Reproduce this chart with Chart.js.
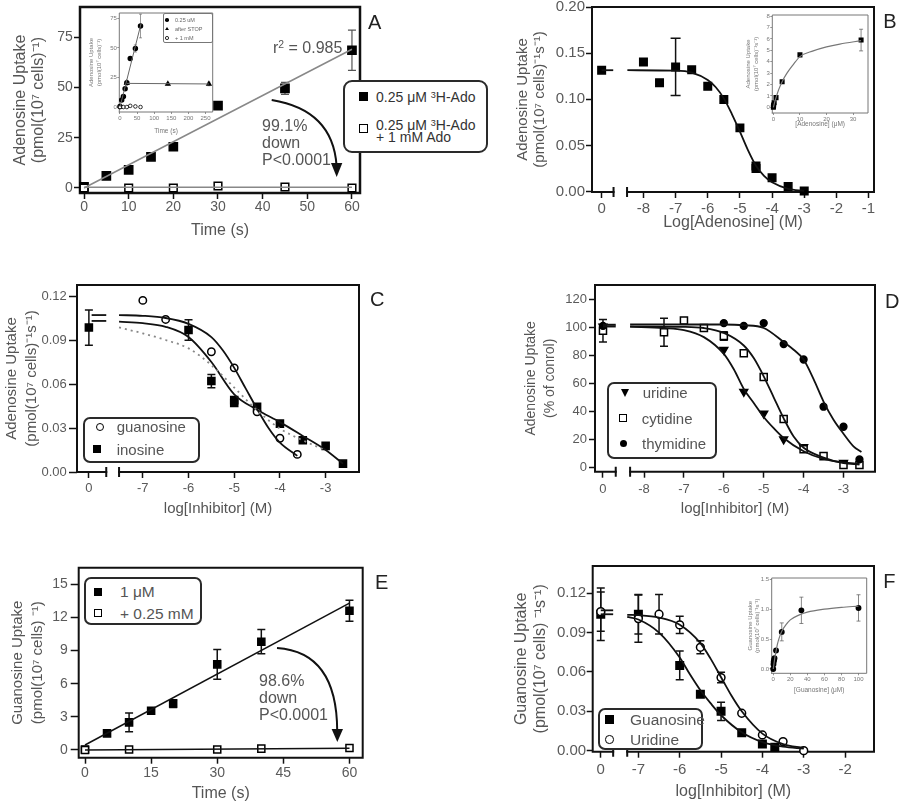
<!DOCTYPE html>
<html>
<head>
<meta charset="utf-8">
<title>Nucleoside uptake</title>
<script src="https://cdn.jsdelivr.net/npm/chart.js@4.4.1/dist/chart.umd.min.js"></script>
<style>
  html, body { margin: 0; padding: 0; background: #fff; }
  #page { position: relative; width: 900px; height: 803px; overflow: hidden; font-family: 'Liberation Sans', Arial, sans-serif; }
  #page canvas { position: absolute; }
  .box { position: absolute; box-sizing: border-box; background: #fff; border: 2px solid #2a2a2a; border-radius: 7px; z-index: 5; }
  .mk { position: absolute; box-sizing: border-box; z-index: 6; }
  .sq { background: #000; }
  .ci { background: #000; border-radius: 50%; }
  .open { background: #fff; border: 1.5px solid #000; }
  .tri { width: 0; height: 0; border-left: 4.5px solid transparent; border-right: 4.5px solid transparent; border-top: 8px solid #000; }
  .txt { position: absolute; white-space: nowrap; color: #555; z-index: 6; }
  .txt sup { font-size: 0.65em; position: relative; top: -0.45em; vertical-align: baseline; line-height: 0; }
  .letter { position: absolute; font-size: 20px; line-height: 20px; color: #222; z-index: 6; }
  svg { position: absolute; left: 0; top: 0; z-index: 6; }
</style>
</head>
<body>
<div id="page">
  <canvas id="chartA" width="420" height="262" style="left:0;top:0"></canvas>
  <canvas id="chartB" width="400" height="262" style="left:500px;top:0"></canvas>
  <canvas id="chartC" width="420" height="262" style="left:0;top:270px"></canvas>
  <canvas id="chartD" width="400" height="262" style="left:500px;top:270px"></canvas>
  <canvas id="chartE" width="420" height="263" style="left:0;top:540px"></canvas>
  <canvas id="chartF" width="400" height="263" style="left:500px;top:540px"></canvas>
  <canvas id="insetA" width="135" height="135" style="left:85px;top:5px"></canvas>
  <canvas id="insetB" width="135" height="130" style="left:740px;top:8px"></canvas>
  <canvas id="insetF" width="135" height="130" style="left:740px;top:570px"></canvas>

  <!-- panel A legend + notes -->
  <div class="box" style="left:343px;top:80px;width:145px;height:73px;border-radius:9px"></div>
  <div class="mk sq" style="left:359px;top:91.5px;width:9px;height:9px"></div>
  <div class="txt" style="left:376px;top:88.7px;font-size:14px;line-height:16px;color:#333">0.25 μM <sup>3</sup>H-Ado</div>
  <div class="mk sq open" style="left:359px;top:123.8px;width:9px;height:9px"></div>
  <div class="txt" style="left:376px;top:118.8px;font-size:14px;line-height:12.5px;color:#333">0.25 μM <sup>3</sup>H-Ado<br>+ 1 mM Ado</div>
  <div class="txt" style="left:273px;top:39px;font-size:16px;line-height:18px">r<sup>2</sup> = 0.985</div>
  <div class="txt" style="left:262px;top:116.5px;font-size:16px;line-height:17px">99.1%<br>down<br>P&lt;0.0001</div>

  <!-- inset A legend -->
  <div class="box" style="left:163px;top:13px;width:50px;height:30px;border:1px solid #777;border-radius:2px;background:transparent"></div>
  <div class="mk ci" style="left:165px;top:18.2px;width:3.5px;height:3.5px"></div>
  <div class="txt" style="left:175px;top:17px;font-size:5.5px;line-height:6px;color:#666">0.25 uM</div>
  <div class="mk" style="left:164.7px;top:27.2px;width:0;height:0;border-left:2px solid transparent;border-right:2px solid transparent;border-bottom:3.5px solid #000"></div>
  <div class="txt" style="left:175px;top:26px;font-size:5.5px;line-height:6px;color:#666">after STOP</div>
  <div class="mk ci open" style="left:165px;top:36.2px;width:3.5px;height:3.5px;border-width:0.8px"></div>
  <div class="txt" style="left:175px;top:35px;font-size:5.5px;line-height:6px;color:#666">+ 1 mM</div>

  <!-- panel C legend -->
  <div class="box" style="left:83px;top:417px;width:117px;height:46px"></div>
  <div class="mk ci open" style="left:96px;top:422.7px;width:8px;height:8px"></div>
  <div class="txt" style="left:116.7px;top:418.2px;font-size:15px;line-height:17px">guanosine</div>
  <div class="mk sq" style="left:92.7px;top:445.3px;width:8px;height:8px"></div>
  <div class="txt" style="left:116.7px;top:440.8px;font-size:15px;line-height:17px">inosine</div>

  <!-- panel D legend -->
  <div class="box" style="left:607px;top:382px;width:110px;height:77px"></div>
  <div class="mk tri" style="left:620.5px;top:388.7px"></div>
  <div class="txt" style="left:642.7px;top:384.2px;font-size:15px;line-height:17px">uridine</div>
  <div class="mk sq open" style="left:619.3px;top:414.3px;width:8px;height:8px"></div>
  <div class="txt" style="left:641.7px;top:409.8px;font-size:15px;line-height:17px">cytidine</div>
  <div class="mk ci" style="left:619.8px;top:439.8px;width:7px;height:7px"></div>
  <div class="txt" style="left:642px;top:434.8px;font-size:15px;line-height:17px">thymidine</div>

  <!-- panel E legend + notes -->
  <div class="box" style="left:84px;top:577px;width:118px;height:48px"></div>
  <div class="mk sq" style="left:94.3px;top:587.7px;width:8px;height:8px"></div>
  <div class="txt" style="left:120px;top:583.2px;font-size:15.5px;line-height:17px">1 μM</div>
  <div class="mk sq open" style="left:94.3px;top:609.3px;width:8px;height:8px"></div>
  <div class="txt" style="left:120px;top:604.8px;font-size:15.5px;line-height:17px">+ 0.25 mM</div>
  <div class="txt" style="left:259px;top:673.3px;font-size:16px;line-height:16.7px">98.6%<br>down<br>P&lt;0.0001</div>

  <!-- panel F legend -->
  <div class="box" style="left:598px;top:708px;width:105px;height:42px"></div>
  <div class="mk sq" style="left:605px;top:715px;width:8.5px;height:8.5px"></div>
  <div class="txt" style="left:630px;top:710.8px;font-size:15.5px;line-height:17px">Guanosine</div>
  <div class="mk ci open" style="left:605px;top:735px;width:8.5px;height:8.5px"></div>
  <div class="txt" style="left:630px;top:730.8px;font-size:15.5px;line-height:17px">Uridine</div>

  <div class="letter" style="left:368px;top:12.4px">A</div>
  <div class="letter" style="left:883.3px;top:10.7px">B</div>
  <div class="letter" style="left:370px;top:289px">C</div>
  <div class="letter" style="left:885px;top:290.7px">D</div>
  <div class="letter" style="left:375px;top:572.4px">E</div>
  <div class="letter" style="left:883.3px;top:570.7px">F</div>

  <svg width="900" height="803">
    <path d="M271.7,100 Q333,110 336.6,166" fill="none" stroke="#111" stroke-width="2"/>
    <polygon points="331,163 342.3,163 336.7,177" fill="#111"/>
    <path d="M277,648 Q337,652 337.2,731" fill="none" stroke="#111" stroke-width="2"/>
    <polygon points="331.6,729 343,729 337.3,742" fill="#111"/>
  </svg>
</div>

<script>
// ---- A: adenosine uptake over time ----
const aTime = [0, 5, 10, 15, 20, 30, 45, 60];
const aUptake = [0.5, 6, 9, 15.5, 20.5, 41, 49.5, 68.5];
const aUptakeErr = [0, 0, 0, 0, 0, 0, 3, 10];
const aBlockTime = [0, 10, 20, 30, 45, 60];
const aBlocked = [0, 0, 0, 1, 0.5, 0];
const aFitTime = [0, 60];
const aFitUptake = [0, 69];
const aBlockFit = [0.3, 0.3];
const aTimeTicks = [0, 10, 20, 30, 40, 50, 60];
const aUptakeTicks = [0, 25, 50, 75];
// inset A
const aStopTime = [20, 140, 260];
const aStopUptake = [20.5, 19.5, 19.5];
const aStopErr = [1, 1, 1.5];
const aInFitTime = [0, 62];
const aInFitUptake = [0, 71];
const aStopFitTime = [20, 260];
const aStopFitUptake = [20, 19.5];
const aInTimeTicks = [0, 50, 100, 150, 200, 250];

// ---- B: adenosine concentration response ----
const bZero = -9.3;
const bLogConc = [bZero, -8, -7.5, -7, -6.5, -6, -5.5, -5, -4.5, -4.5, -4, -3.5, -3];
const bUptake = [0.1315, 0.1405, 0.118, 0.135, 0.132, 0.114, 0.0998, 0.069, 0.0277, 0.025, 0.015, 0.0054, 0.0007];
const bUptakeErr = [0, 0, 0, 0.031, 0, 0, 0, 0, 0, 0, 0, 0, 0];
const bFitLog = [-8.5, -7, -6.5, -6, -5.75, -5.5, -5.25, -5, -4.75, -4.5, -4.25, -4, -3.5, -3];
const bFitUptake = [0.1315, 0.131, 0.129, 0.121, 0.113, 0.101, 0.084, 0.065, 0.045, 0.028, 0.017, 0.010, 0.003, 0.0008];
const bZeroDashLog = [bZero, -8.94];
const bZeroDashUptake = [0.1315, 0.1315];
const bLogTicks = [bZero, -8, -7, -6, -5, -4, -3, -2, -1];
const bLogLabels = ['0', '-8', '-7', '-6', '-5', '-4', '-3', '-2', '-1'];
const bUptakeTicks = [0, 0.05, 0.1, 0.15, 0.2];
const bUptakeLabels = ['0.00', '0.05', '0.10', '0.15', '0.20'];
// inset B
const bInConc = [0, 0.05, 0.1, 0.3, 1, 3.3, 10, 33];
const bInUptake = [0, 0.1, 0.2, 0.4, 0.85, 2.25, 4.6, 5.9];
const bInErr = [0, 0, 0, 0, 0, 0, 0, 0.95];
const bInFitConc = [0, 0.5, 1, 2, 3.3, 5, 7.5, 10, 15, 20, 25, 33];
const bInFitUptake = [0, 0.45, 0.85, 1.55, 2.25, 2.95, 3.75, 4.45, 4.95, 5.3, 5.55, 5.85];
const bInConcTicks = [0, 10, 20, 30];
const bInUptakeTicks = [0, 1, 2, 3, 4, 5, 6, 7, 8];

// ---- C: purine inhibitors ----
const cZero = -8.18;
const cGuanLog = [-7, -6.5, -5.5, -5, -4.5, -4, -3.62];
const cGuan = [0.117, 0.104, 0.082, 0.071, 0.041, 0.023, 0.012];
const cInoLog = [cZero, -6, -5.5, -5, -5, -4.5, -4, -3.5, -3, -2.62];
const cIno = [0.0985, 0.0968, 0.062, 0.047, 0.049, 0.0444, 0.033, 0.0216, 0.0178, 0.0057];
const cInoErr = [0.012, 0.007, 0.0045, 0, 0, 0, 0, 0, 0, 0];
const cGuanFitLog = [-7.52, -7, -6.5, -6, -5.5, -5.25, -5, -4.75, -4.5, -4.25, -4, -3.62];
const cGuanFit = [0.107, 0.1065, 0.105, 0.101, 0.092, 0.083, 0.071, 0.057, 0.043, 0.030, 0.020, 0.011];
const cInoFitLog = [-7.52, -7, -6.5, -6, -5.5, -5, -4.5, -4, -3.5, -3, -2.62];
const cInoFit = [0.1025, 0.1015, 0.099, 0.092, 0.075, 0.053, 0.0425, 0.034, 0.0246, 0.015, 0.0057];
const cDotLog = [-7.52, -7, -6.5, -6, -5.5, -5, -4.5, -4, -3.5, -3];
const cDotFit = [0.0986, 0.0945, 0.090, 0.0843, 0.0729, 0.0576, 0.042, 0.0296, 0.0216, 0.0148];
const cZeroDashLog = [-8.12, -7.80];
const cZeroDashHigh = [0.107, 0.107];
const cZeroDashLow = [0.103, 0.103];
const cLogTicks = [cZero, -7, -6, -5, -4, -3];
const cLogLabels = ['0', '-7', '-6', '-5', '-4', '-3'];
const cUptakeTicks = [0, 0.03, 0.06, 0.09, 0.12];
const cUptakeLabels = ['0.00', '0.03', '0.06', '0.09', '0.12'];

// ---- D: pyrimidine inhibitors ----
const dZero = -9.03;
const dUriLog = [dZero, -6, -5.5, -5, -4.5, -4, -3];
const dUri = [100.5, 84, 54, 38.5, 20, 14.5, 3.3];
const dCytLog = [dZero, -7.5, -7, -6.5, -6, -5.5, -5, -4.5, -4, -3.5, -3, -2.6];
const dCyt = [97.5, 96.5, 104.8, 99.5, 93.8, 81.5, 64.5, 34.5, 12.9, 8, 1.7, 1.7];
const dCytErr = [8, 10, 0, 0, 3, 0, 0, 0, 0, 0, 0, 0];
const dThyLog = [dZero, -6, -5.5, -5, -4.5, -4, -3.5, -3, -2.6];
const dThy = [101, 103, 101, 103, 88, 77, 43.3, 29, 5.7];
const dUriFitLog = [-8.35, -7.5, -7, -6.5, -6, -5.75, -5.5, -5.25, -5, -4.75, -4.5, -4, -3.5, -3, -2.6];
const dUriFit = [100.5, 99.5, 98, 93, 81, 70, 56, 46, 36, 28, 21, 11.5, 6, 3.5, 2.5];
const dCytFitLog = [-8.35, -7, -6.5, -6, -5.5, -5.25, -5, -4.75, -4.5, -4.25, -4, -3.5, -3, -2.6];
const dCytFit = [100.5, 100.3, 99.5, 96, 87, 78, 65, 50, 35, 22, 14, 7, 3, 2];
const dThyFitLog = [-8.35, -6, -5.5, -5, -4.5, -4.25, -4, -3.75, -3.5, -3.25, -3, -2.75, -2.55];
const dThyFit = [102, 102, 101.5, 99.5, 89.5, 84, 77, 63, 47, 34, 24, 15, 11];
const dZeroDashLog = [dZero, -8.71];
const dZeroDashHigh = [101.8, 101.8];
const dZeroDashLow = [100.6, 100.6];
const dLogTicks = [dZero, -8, -7, -6, -5, -4, -3];
const dLogLabels = ['0', '-8', '-7', '-6', '-5', '-4', '-3'];
const dPctTicks = [0, 20, 40, 60, 80, 100, 120];

// ---- E: guanosine uptake over time ----
const eTime = [0, 5, 10, 15, 20, 30, 40, 60];
const eUptake = [0.05, 1.5, 2.5, 3.55, 4.2, 7.75, 9.8, 12.6];
const eUptakeErr = [0, 0, 0.85, 0, 0.35, 1.35, 1.1, 0.95];
const eBlockTime = [0, 10, 30, 40, 60];
const eBlocked = [0, 0.05, 0.05, 0.12, 0.18];
const eFitTime = [0, 60];
const eFitUptake = [0.45, 13.3];
const eBlockFit = [0, 0.15];
const eTimeTicks = [0, 15, 30, 45, 60];
const eUptakeTicks = [0, 3, 6, 9, 12, 15];

// ---- F: guanosine uptake inhibition ----
const fZero = -7.91;
const fGuanLog = [fZero, -7, -6, -5.5, -5, -4.5, -4, -3.7];
const fGuan = [0.104, 0.104, 0.065, 0.043, 0.030, 0.0137, 0.005, 0.0025];
const fGuanErr = [0.02, 0.015, 0.011, 0, 0.007, 0, 0, 0];
const fUriLog = [fZero, -7, -6.5, -6, -5.5, -5, -4.5, -4, -3.5, -3];
const fUri = [0.106, 0.1007, 0.104, 0.0959, 0.0788, 0.0557, 0.0285, 0.012, 0.0069, 0];
const fUriErr = [0.015, 0.018, 0.015, 0.0065, 0.005, 0.004, 0, 0, 0, 0];
const fGuanFitLog = [-7.27, -7, -6.5, -6, -5.75, -5.5, -5.25, -5, -4.5, -4, -3.5, -3];
const fGuanFit = [0.102, 0.100, 0.090, 0.071, 0.058, 0.046, 0.036, 0.027, 0.014, 0.0065, 0.003, 0.0015];
const fUriFitLog = [-7.27, -7, -6.5, -6, -5.5, -5.25, -5, -4.75, -4.5, -4, -3.5, -3];
const fUriFit = [0.1035, 0.1033, 0.1015, 0.096, 0.082, 0.070, 0.056, 0.042, 0.030, 0.013, 0.005, 0.002];
const fZeroDashLog = [fZero, -7.61];
const fZeroDashHigh = [0.107, 0.107];
const fZeroDashLow = [0.104, 0.104];
const fLogTicks = [fZero, -7, -6, -5, -4, -3, -2];
const fLogLabels = ['0', '-7', '-6', '-5', '-4', '-3', '-2'];
// inset F
const fInConc = [0, 0.3, 0.5, 1, 1.5, 3.3, 10, 33, 100];
const fInUptake = [0, 0.08, 0.12, 0.15, 0.18, 0.31, 0.62, 0.98, 1.02];
const fInErr = [0, 0, 0, 0, 0, 0, 0.15, 0.22, 0.22];
const fInFitConc = [0, 1, 2, 3.3, 5, 7.5, 10, 15, 20, 30, 40, 60, 80, 100];
const fInFit = [0, 0.1, 0.2, 0.3, 0.42, 0.54, 0.63, 0.74, 0.82, 0.9, 0.95, 1.0, 1.03, 1.05];
const fInConcTicks = [0, 20, 40, 60, 80, 100];
const fInUptakeTicks = [0, 0.5, 1, 1.5];
const fInUptakeLabels = ['0.0', '0.5', '1.0', '1.5'];

const uptakeUnits = '(pmol(10⁷ cells)⁻¹s⁻¹)';

Chart.defaults.font.family = "'Liberation Sans', Arial, sans-serif";

const xy = (xs, ys) => xs.map((x, i) => ({x, y: ys[i]}));
const asText = (vals) => vals.map(v => String(v));

const line = (xs, ys, color, width, dash) => ({
  data: xy(xs, ys), showLine: true, pointRadius: 0, borderColor: color, borderWidth: width,
  borderDash: dash || [], cubicInterpolationMode: 'monotone', clip: false
});

const marks = (xs, ys, o) => ({
  data: xy(xs, ys), showLine: false, pointStyle: o.style, pointRadius: o.r, pointRotation: o.rot || 0,
  backgroundColor: o.open ? '#fff' : '#000', borderColor: '#000', borderWidth: o.bw || 1.5,
  errorBars: o.err, errorCap: o.cap, errorWidth: o.ew, errorColor: o.ec, clip: false
});

// draws the axes box, with the gap that splits off the "0" point
const framePlugin = {
  id: 'frame',
  beforeDatasetsDraw(chart, args, opts) {
    const {ctx, chartArea: {left, right, top, bottom}, scales: {x}} = chart;
    ctx.save();
    ctx.strokeStyle = opts.color;
    ctx.lineWidth = opts.width;
    ctx.lineCap = 'square';
    ctx.beginPath();
    ctx.moveTo(left, bottom);
    ctx.lineTo(left, top);
    ctx.lineTo(right, top);
    ctx.lineTo(right, bottom);
    if (opts.gapFrom !== undefined) {
      const g1 = x.getPixelForValue(opts.gapFrom);
      const g2 = x.getPixelForValue(opts.gapTo);
      ctx.lineTo(g2, bottom);
      ctx.moveTo(g1, bottom);
      ctx.lineTo(left, bottom);
      ctx.stroke();
      ctx.lineCap = 'butt';
      ctx.beginPath();
      ctx.moveTo(g1, bottom - 5); ctx.lineTo(g1, bottom + 5);
      ctx.moveTo(g2, bottom - 5); ctx.lineTo(g2, bottom + 5);
    } else {
      ctx.lineTo(left, bottom);
    }
    ctx.stroke();
    ctx.restore();
  }
};

const errorBarPlugin = {
  id: 'errorBars',
  beforeDatasetsDraw(chart) {
    const {ctx, scales: {x, y}} = chart;
    chart.data.datasets.forEach(ds => {
      if (!ds.errorBars) return;
      ctx.save();
      ctx.strokeStyle = ds.errorColor || '#111';
      ctx.lineWidth = ds.errorWidth || 1.5;
      const cap = ds.errorCap || 4;
      ds.data.forEach((p, i) => {
        const e = ds.errorBars[i];
        if (!e) return;
        const px = x.getPixelForValue(p.x);
        const hi = y.getPixelForValue(p.y + e);
        const lo = y.getPixelForValue(p.y - e);
        ctx.beginPath();
        ctx.moveTo(px, hi); ctx.lineTo(px, lo);
        ctx.moveTo(px - cap, hi); ctx.lineTo(px + cap, hi);
        ctx.moveTo(px - cap, lo); ctx.lineTo(px + cap, lo);
        ctx.stroke();
      });
      ctx.restore();
    });
  }
};

function makeScale(s) {
  const isX = s.axis === 'x';
  return {
    type: 'linear',
    position: isX ? 'bottom' : 'left',
    bounds: 'data',
    min: s.min,
    max: s.max,
    afterBuildTicks: (scale) => { scale.ticks = s.ticks.map(v => ({value: v})); },
    afterFit: (scale) => {
      if (isX) scale.height = s.fit; else scale.width = s.fit;
      scale.paddingTop = scale.paddingBottom = scale.paddingLeft = scale.paddingRight = 0;
    },
    border: {display: false},
    grid: {
      drawOnChartArea: false, drawTicks: true,
      tickLength: s.tickLen ?? 6, tickWidth: s.tickWidth ?? 1.5, tickColor: s.tickColor ?? '#111'
    },
    ticks: {
      autoSkip: false, maxRotation: 0, padding: s.tickPad ?? 2,
      color: s.labelColor ?? '#5a5a5a', font: {size: s.tickSize},
      callback: (v, i) => s.labels[i]
    },
    title: {
      display: true, text: s.title, color: s.titleColor ?? '#555',
      font: {size: s.titleSize, lineHeight: s.titleLine ?? 1.15},
      padding: {top: s.titlePad ?? 0, bottom: s.titlePad ?? 0}
    }
  };
}

function drawPanel(id, p) {
  return new Chart(document.getElementById(id), {
    type: 'scatter',
    data: {datasets: p.datasets},
    options: {
      responsive: false,
      animation: false,
      devicePixelRatio: 1,
      events: [],
      layout: {autoPadding: false, padding: {top: p.top, right: p.right, left: 0, bottom: 0}},
      plugins: {legend: {display: false}, tooltip: {enabled: false}, frame: p.frame},
      scales: {x: makeScale({axis: 'x', ...p.x}), y: makeScale({axis: 'y', ...p.y})}
    },
    plugins: [framePlugin, errorBarPlugin]
  });
}

const inset = {tickSize: 6, tickLen: 2, tickWidth: 0.8, tickColor: '#777', labelColor: '#777', tickPad: 0.5, titleColor: '#777'};

// A
drawPanel('chartA', {
  top: 7, right: 60,
  frame: {color: '#111', width: 2.5},
  x: {min: -0.9, max: 61.8, ticks: aTimeTicks, labels: asText(aTimeTicks), fit: 69, tickSize: 14, tickPad: 0,
      title: 'Time (s)', titleSize: 16, titlePad: 22.4},
  y: {min: -2.5, max: 90, ticks: aUptakeTicks, labels: asText(aUptakeTicks), fit: 80, tickSize: 14, tickPad: 1.3,
      title: ['Adenosine Uptake', '(pmol(10⁷ cells)⁻¹)'], titleSize: 16, titlePad: 11.4},
  datasets: [
    line(aFitTime, aFitUptake, '#888', 1.5),
    line(aFitTime, aBlockFit, '#888', 1.5),
    marks(aBlockTime, aBlocked, {style: 'rect', r: 5.4, open: true}),
    marks(aTime, aUptake, {style: 'rect', r: 5.8, err: aUptakeErr, ec: '#555', ew: 1.2, cap: 4})
  ]
});

drawPanel('insetA', {
  top: 8, right: 7.3,
  frame: {color: '#777', width: 1},
  x: {...inset, min: -2, max: 271, ticks: aInTimeTicks, labels: asText(aInTimeTicks), fit: 28,
      title: 'Time (s)', titleSize: 6.5, titlePad: 5},
  y: {...inset, min: -4.2, max: 79.5, ticks: aUptakeTicks, labels: asText(aUptakeTicks), fit: 34.3,
      title: ['Adenosine Uptake', '(pmol(10⁷ cells)⁻¹)'], titleSize: 6, titleLine: 1.3, titlePad: 2.8},
  datasets: [
    line(aInFitTime, aInFitUptake, '#666', 1),
    line(aStopFitTime, aStopFitUptake, '#666', 1),
    marks(aBlockTime, aBlocked, {style: 'circle', r: 1.8, open: true, bw: 0.8}),
    marks(aStopTime, aStopUptake, {style: 'triangle', r: 2.2, err: aStopErr, ew: 0.6, cap: 1.5, ec: '#555'}),
    marks(aTime, aUptake, {style: 'circle', r: 2, err: aUptakeErr, ew: 0.6, cap: 1.5, ec: '#555'})
  ]
});

// B
drawPanel('chartB', {
  top: 7, right: 26,
  frame: {color: '#111', width: 2, gapFrom: -8.93, gapTo: -8.51},
  x: {min: -9.6, max: -0.83, ticks: bLogTicks, labels: bLogLabels, fit: 70, tickSize: 15, tickPad: 2,
      title: 'Log[Adenosine] (M)', titleSize: 16, titlePad: 30.5},
  y: {min: -0.0005, max: 0.2, ticks: bUptakeTicks, labels: bUptakeLabels, fit: 92, tickSize: 15, tickPad: 1,
      title: ['Adenosine Uptake', uptakeUnits], titleSize: 15, titlePad: 14.4},
  datasets: [
    line(bZeroDashLog, bZeroDashUptake, '#111', 1.8),
    line(bFitLog, bFitUptake, '#111', 1.8),
    marks(bLogConc, bUptake, {style: 'rect', r: 5.3, err: bUptakeErr, cap: 5})
  ]
});

drawPanel('insetB', {
  top: 7, right: 7,
  frame: {color: '#777', width: 1},
  x: {...inset, min: -0.4, max: 35.6, ticks: bInConcTicks, labels: asText(bInConcTicks), fit: 25,
      title: '[Adenosine] (μM)', titleSize: 6.5, titlePad: 9.6},
  y: {...inset, min: -0.5, max: 8.1, ticks: bInUptakeTicks, labels: asText(bInUptakeTicks), fit: 32.3,
      title: ['Adenosine Uptake', uptakeUnits], titleSize: 6, titleLine: 1.25, titlePad: 4.75},
  datasets: [
    line(bInFitConc, bInFitUptake, '#777', 1.2),
    marks(bInConc, bInUptake, {style: 'rect', r: 2.5, err: bInErr, ew: 0.7, cap: 2, ec: '#555'})
  ]
});

// C
drawPanel('chartC', {
  top: 15, right: 61,
  frame: {color: '#111', width: 2, gapFrom: -7.80, gapTo: -7.52},
  x: {min: -8.44, max: -2.27, ticks: cLogTicks, labels: cLogLabels, fit: 60, tickSize: 13, tickPad: 2.5,
      title: 'log[Inhibitor] (M)', titleSize: 15, titlePad: 15},
  y: {min: 0, max: 0.1275, ticks: cUptakeTicks, labels: cUptakeLabels, fit: 77, tickSize: 13, tickLen: 8, tickPad: 2.3,
      title: ['Adenosine Uptake', uptakeUnits], titleSize: 15, titleLine: 1.3, titlePad: 2.3},
  datasets: [
    line(cZeroDashLog, cZeroDashHigh, '#111', 1.8),
    line(cZeroDashLog, cZeroDashLow, '#111', 1.8),
    line(cDotLog, cDotFit, '#888', 1.8, [2, 4]),
    line(cGuanFitLog, cGuanFit, '#111', 1.8),
    line(cInoFitLog, cInoFit, '#111', 1.8),
    marks(cGuanLog, cGuan, {style: 'circle', r: 3.7, open: true}),
    marks(cInoLog, cIno, {style: 'rect', r: 5, err: cInoErr, cap: 4})
  ]
});

// D
drawPanel('chartD', {
  top: 15, right: 25,
  frame: {color: '#111', width: 2, gapFrom: -8.71, gapTo: -8.35},
  x: {min: -9.23, max: -2.21, ticks: dLogTicks, labels: dLogLabels, fit: 60.3, tickSize: 13, tickPad: 3.8,
      title: 'log[Inhibitor] (M)', titleSize: 15, titlePad: 15},
  y: {min: -3.1, max: 130.2, ticks: dPctTicks, labels: asText(dPctTicks), fit: 95, tickSize: 13, tickPad: 2,
      title: ['Adenosine Uptake', '(% of conrol)'], titleSize: 14, titleLine: 1.3, titlePad: 22.5},
  datasets: [
    line(dZeroDashLog, dZeroDashHigh, '#111', 2),
    line(dZeroDashLog, dZeroDashLow, '#111', 2),
    line(dUriFitLog, dUriFit, '#111', 1.8),
    line(dCytFitLog, dCytFit, '#111', 1.8),
    line(dThyFitLog, dThyFit, '#111', 1.8),
    marks(dThyLog, dThy, {style: 'circle', r: 3.4}),
    marks(dCytLog, dCyt, {style: 'rect', r: 5, open: true, err: dCytErr, cap: 4}),
    marks(dUriLog, dUri, {style: 'triangle', r: 4.5, rot: 180})
  ]
});

// E
drawPanel('chartE', {
  top: 27.7, right: 57.3,
  frame: {color: '#111', width: 2},
  x: {min: -1.43, max: 63, ticks: eTimeTicks, labels: asText(eTimeTicks), fit: 45.3, tickSize: 14, tickPad: 1.2,
      title: 'Time (s)', titleSize: 16, titlePad: 0.5},
  y: {min: -0.7, max: 16.5, ticks: eUptakeTicks, labels: asText(eUptakeTicks), fit: 78.7, tickSize: 14, tickLen: 8, tickPad: 3,
      title: ['Guanosine Uptake', '(pmol(10⁷ cells) ⁻¹)'], titleSize: 15, titleLine: 1.33, titlePad: 7.5},
  datasets: [
    line(eFitTime, eFitUptake, '#111', 1.5),
    line(eFitTime, eBlockFit, '#111', 1.5),
    marks(eBlockTime, eBlocked, {style: 'rect', r: 5, open: true}),
    marks(eTime, eUptake, {style: 'rect', r: 5, err: eUptakeErr, cap: 4})
  ]
});

// F
drawPanel('chartF', {
  top: 26, right: 26,
  frame: {color: '#111', width: 2, gapFrom: -7.61, gapTo: -7.27},
  x: {min: -8.105, max: -1.30, ticks: fLogTicks, labels: fLogLabels, fit: 51.3, tickSize: 15, tickPad: 3.3,
      title: 'log[Inhibitor] (M)', titleSize: 16, titlePad: 2.1},
  y: {min: -0.0008, max: 0.1408, ticks: cUptakeTicks, labels: cUptakeLabels, fit: 92.7, tickSize: 15, tickPad: 0.5,
      title: ['Guanosine Uptake', '(pmol(10⁷ cells) ⁻¹s⁻¹)'], titleSize: 16, titlePad: 12.5},
  datasets: [
    line(fZeroDashLog, fZeroDashHigh, '#111', 1.8),
    line(fZeroDashLog, fZeroDashLow, '#111', 1.8),
    line(fGuanFitLog, fGuanFit, '#111', 1.8),
    line(fUriFitLog, fUriFit, '#111', 1.8),
    marks(fUriLog, fUri, {style: 'circle', r: 3.9, open: true, err: fUriErr, cap: 4}),
    marks(fGuanLog, fGuan, {style: 'rect', r: 5.3, err: fGuanErr, cap: 4})
  ]
});

drawPanel('insetF', {
  top: 8, right: 8.3,
  frame: {color: '#777', width: 1},
  x: {...inset, min: -1.8, max: 109.6, ticks: fInConcTicks, labels: asText(fInConcTicks), fit: 26.7,
      title: '[Guanosine] (μM)', titleSize: 6.5, titlePad: 6.4},
  y: {...inset, min: -0.072, max: 1.52, ticks: fInUptakeTicks, labels: fInUptakeLabels, fit: 31.7,
      title: ['Guanosine Uptake', uptakeUnits], titleSize: 6, titleLine: 1.25, titlePad: 6.25},
  datasets: [
    line(fInFitConc, fInFit, '#777', 1.2),
    marks(fInConc, fInUptake, {style: 'circle', r: 2.2, err: fInErr, ew: 0.7, cap: 2, ec: '#555'})
  ]
});
</script>
</body>
</html>
